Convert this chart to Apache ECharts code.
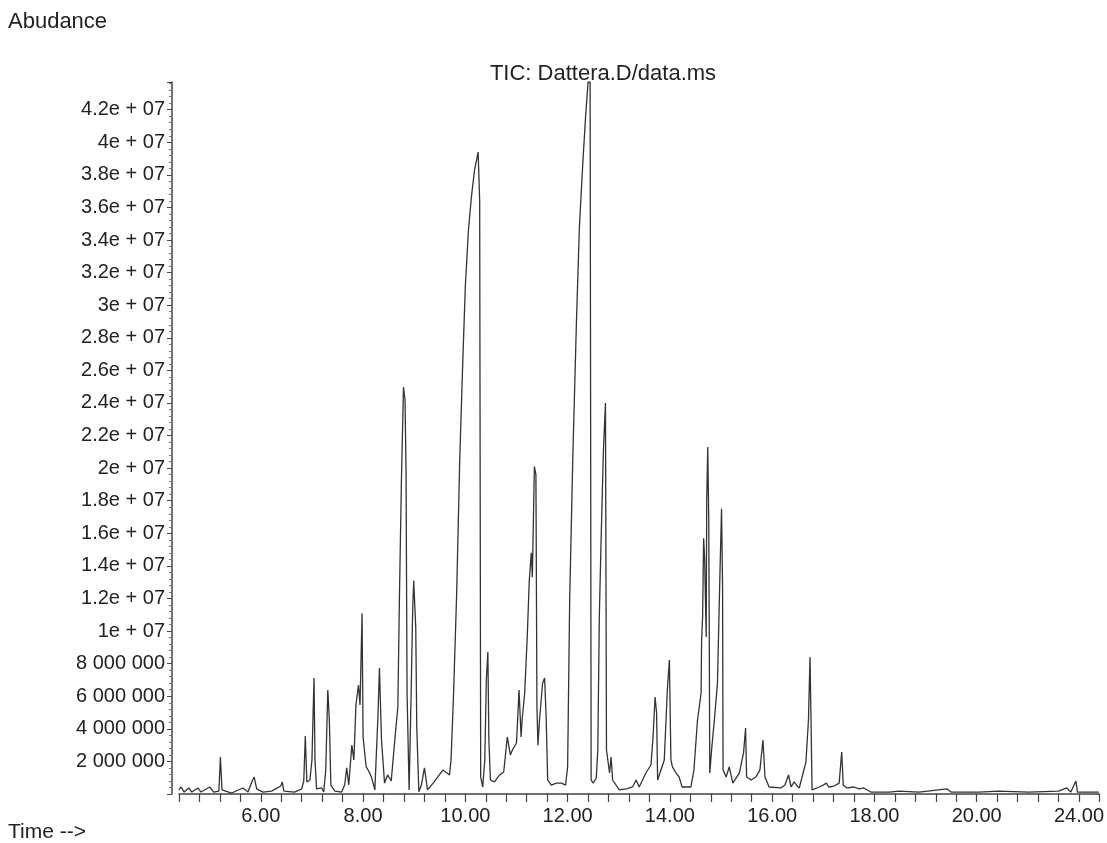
<!DOCTYPE html>
<html>
<head>
<meta charset="utf-8">
<script src="https://cdn.jsdelivr.net/npm/echarts@6/dist/echarts.min.js"></script>
<style>
  html, body { margin: 0; padding: 0; background: #fff; }
  #chart { width: 1107px; height: 843px; }
</style>
</head>
<body>
<div id="chart"></div>
<script>
// retention time (min)
var retentionTime = [
  4.40, 4.44, 4.50, 4.59, 4.65, 4.77, 4.83, 5.00, 5.08, 5.18, 5.21, 5.24, 5.43, 5.65, 5.75, 5.84, 5.87, 5.92,
  6.04, 6.21, 6.39, 6.42, 6.45, 6.66, 6.80, 6.84, 6.87, 6.90, 6.96, 7.00, 7.04, 7.06, 7.09, 7.19, 7.23, 7.27,
  7.31, 7.34, 7.37, 7.45, 7.58, 7.64, 7.68, 7.72, 7.78, 7.82, 7.86, 7.91, 7.94, 7.98, 8.00, 8.06, 8.11, 8.17,
  8.23, 8.29, 8.32, 8.36, 8.42, 8.48, 8.55, 8.62, 8.68, 8.71, 8.75, 8.79, 8.82, 8.84, 8.86, 8.90, 8.94, 8.97,
  8.99, 9.03, 9.05, 9.09, 9.14, 9.20, 9.26, 9.37, 9.56, 9.64, 9.69, 9.72, 9.77, 9.83, 9.89, 9.95, 10.00, 10.06,
  10.12, 10.18, 10.25, 10.28, 10.30, 10.34, 10.38, 10.41, 10.44, 10.46, 10.49, 10.57, 10.67, 10.75, 10.82, 10.88,
  10.92, 11.00, 11.05, 11.09, 11.11, 11.16, 11.21, 11.25, 11.29, 11.31, 11.35, 11.38, 11.40, 11.42, 11.45, 11.51,
  11.55, 11.58, 11.61, 11.68, 11.78, 11.88, 11.96, 12.00, 12.04, 12.10, 12.17, 12.23, 12.30, 12.35, 12.40, 12.44,
  12.46, 12.50, 12.56, 12.59, 12.62, 12.65, 12.70, 12.74, 12.76, 12.82, 12.85, 12.88, 13.01, 13.15, 13.27, 13.34,
  13.40, 13.53, 13.63, 13.67, 13.71, 13.74, 13.76, 13.89, 13.95, 13.99, 14.02, 14.05, 14.12, 14.18, 14.24, 14.41,
  14.47, 14.54, 14.61, 14.62, 14.64, 14.66, 14.68, 14.71, 14.72, 14.74, 14.76, 14.77, 14.78, 14.82, 14.87, 14.93,
  14.98, 15.01, 15.03, 15.04, 15.10, 15.16, 15.23, 15.36, 15.44, 15.48, 15.50, 15.59, 15.68, 15.76, 15.82, 15.86,
  15.94, 16.17, 16.25, 16.32, 16.37, 16.43, 16.49, 16.53, 16.66, 16.71, 16.74, 16.76, 16.78, 16.92, 17.00, 17.06,
  17.11, 17.21, 17.31, 17.36, 17.39, 17.46, 17.60, 17.70, 17.79, 17.93, 18.29, 18.48, 18.87, 19.42, 19.50, 20.04,
  20.43, 21.02, 21.60, 21.76, 21.84, 21.94, 21.97, 22.19, 22.39
];

// abundance (millions of counts)
var abundanceM = [
  0.25, 0.43, 0.12, 0.37, 0.12, 0.37, 0.12, 0.43, 0.12, 0.18, 2.27, 0.25, 0.06, 0.37, 0.12, 0.86, 1.04, 0.31,
  0.12, 0.18, 0.49, 0.74, 0.18, 0.12, 0.31, 0.80, 3.56, 0.74, 0.86, 2.09, 7.12, 2.09, 0.31, 0.37, 0.12, 1.47,
  6.38, 4.54, 0.55, 0.18, 0.12, 0.55, 1.60, 0.55, 3.00, 2.09, 5.46, 6.69, 5.46, 11.1, 3.50, 1.66, 1.41, 0.98,
  0.25, 4.72, 7.73, 3.31, 0.67, 1.17, 0.80, 3.31, 5.34, 11.9, 19.3, 24.97, 24.2, 19.9, 6.20, 0.25, 6.20, 11.3,
  13.1, 10.2, 4.10, 0.14, 0.55, 1.60, 0.25, 0.67, 1.47, 1.29, 1.17, 2.09, 6.20, 12.3, 20.5, 26.6, 31.2, 34.6,
  36.7, 38.3, 39.4, 36.4, 1.04, 0.43, 2.09, 7.00, 8.71, 3.31, 0.86, 0.74, 1.17, 1.35, 3.50, 2.40,
  2.70, 3.13, 6.38, 3.50, 4.54, 6.20, 9.63, 13.1, 14.8, 13.3, 20.1, 19.6, 5.34, 3.00, 4.54, 6.80,
  7.12, 4.72, 0.86, 0.55, 0.67, 0.67, 0.55, 1.66, 11.9, 20.5, 28.7, 34.8, 38.9, 41.5, 43.7, 43.7,
  0.86, 0.67, 0.98, 2.70, 10.9, 15.0, 21.1, 24.0, 2.70, 1.29, 2.27, 0.86, 0.25, 0.31, 0.43, 0.86,
  0.43, 1.29, 1.78, 3.50, 5.95, 4.97, 0.86, 2.09, 6.38, 8.22, 2.09, 1.66, 1.29, 1.04, 0.43, 0.43,
  1.47, 4.54, 6.20, 9.45, 10.9, 15.7, 14.4, 9.63, 18.0, 21.3, 16.8, 9.63, 1.29, 2.88, 4.54, 6.80,
  13.7, 17.5, 12.7, 1.47, 1.04, 1.66, 0.67, 1.29, 2.52, 4.05, 1.04, 0.86, 1.04, 1.47, 3.31, 1.04,
  0.43, 0.37, 0.55, 1.17, 0.43, 0.74, 0.49, 0.37, 1.96, 4.54, 8.40, 4.54, 0.25, 0.43, 0.55, 0.67,
  0.43, 0.49, 0.67, 2.58, 0.55, 0.37, 0.43, 0.31, 0.37, 0.12, 0.12, 0.18, 0.12, 0.31, 0.12, 0.12,
  0.18, 0.12, 0.18, 0.37, 0.12, 0.80, 0.12, 0.12, 0.12
];

// x tick positions and the labels printed under them
var xTickValues = [6, 8, 10, 12, 14, 16, 18, 20, 22];
var xTickLabels = ['6.00', '8.00', '10.00', '12.00', '14.00', '16.00', '18.00', '20.00', '24.00'];

var seriesData = retentionTime.map(function (t, i) {
  return [t, abundanceM[i] * 1e6];
});

function yLabel(v) {
  if (v <= 0) return '';
  if (Math.abs(v / 2e6 - Math.round(v / 2e6)) > 1e-6) return '';
  if (v < 1e7) {
    return String(Math.round(v)).replace(/\B(?=(\d{3})+(?!\d))/g, ' ');
  }
  var m = (v / 1e7).toFixed(1).replace(/\.0$/, '');
  return m + 'e + 07';
}

function xLabel(v) {
  for (var i = 0; i < xTickValues.length; i++) {
    if (Math.abs(v - xTickValues[i]) < 1e-6) return xTickLabels[i];
  }
  return '';
}

var chart = echarts.init(document.getElementById('chart'));
var font = '"Liberation Sans", Arial, sans-serif';

var option = {
  animation: false,
  backgroundColor: '#fff',
  title: {
    text: 'TIC: Dattera.D/data.ms',
    left: 598,
    top: 58,
    textAlign: 'center',
    textStyle: { fontFamily: font, fontSize: 22, fontWeight: 'normal', color: '#222' }
  },
  graphic: [
    { type: 'text', left: 8, top: 11, style: { text: 'Abudance', font: '22px ' + font, fill: '#222' } },
    { type: 'text', left: 8, top: 822, style: { text: 'Time -->', font: '21px ' + font, fill: '#222' } }
  ],
  grid: { left: 179, right: 6, top: 82, bottom: 49 },
  xAxis: {
    type: 'value',
    min: 4.4,
    max: 22.4,
    interval: 0.4,
    splitLine: { show: false },
    axisLine: { lineStyle: { color: '#444', width: 1.5 } },
    axisTick: { length: 8, lineStyle: { color: '#444', width: 1.2 } },
    axisLabel: {
      formatter: xLabel,
      margin: 12,
      fontFamily: font,
      fontSize: 20,
      color: '#222',
      showMinLabel: true,
      showMaxLabel: true,
      hideOverlap: false
    }
  },
  yAxis: {
    type: 'value',
    min: 0,
    max: 43.7e6,
    interval: 2e6,
    offset: 7,
    splitLine: { show: false },
    axisLine: { show: true, lineStyle: { color: '#444', width: 1.5 } },
    axisTick: { show: true, length: 5, lineStyle: { color: '#444', width: 1 } },
    minorTick: { show: true, splitNumber: 5, length: 3, lineStyle: { color: '#777', width: 1 } },
    axisLabel: {
      formatter: yLabel,
      margin: 7,
      fontFamily: font,
      fontSize: 20,
      color: '#222'
    }
  },
  series: [{
    type: 'line',
    data: seriesData,
    showSymbol: false,
    symbol: 'none',
    sampling: null,
    lineStyle: { color: '#333', width: 1.3 },
    clip: true
  }]
};

chart.setOption(option);
</script>
</body>
</html>
